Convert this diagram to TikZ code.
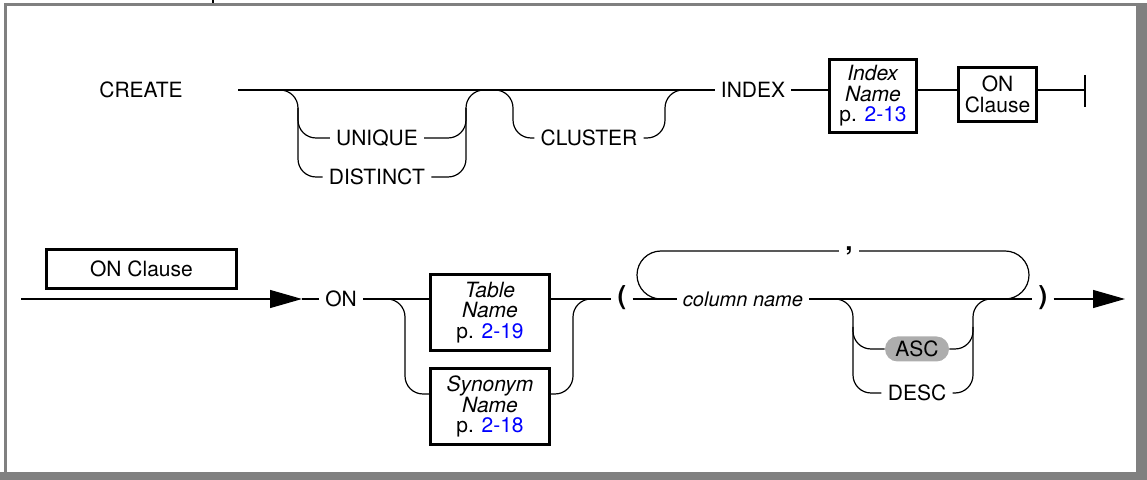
\documentclass[tikz,border=0pt]{standalone}
\usepackage{fontspec}
\setmainfont{TeX Gyre Heros}
\usetikzlibrary{arrows.meta}

\tikzset{
  kw/.style={inner xsep=3pt, inner ysep=1pt},
  punct/.style={kw, font=\fontsize{13}{14}\selectfont\bfseries},
  refbox/.style={draw, line width=1.5pt, align=center, inner sep=0pt,
    font=\fontsize{10.5}{10.3}\selectfont},
  pill/.style={fill=black!32, rounded corners=6.25pt, minimum width=32pt,
    minimum height=12.5pt, inner sep=0pt},
  rail/.style={line width=0.6pt, rounded corners=9pt},
  frame/.style={fill=black!50},
}
\newcommand{\pgref}[1]{\textcolor{blue}{#1}}

\begin{document}
\begin{tikzpicture}[x=0.5pt, y=-0.5pt, font=\fontsize{10.5}{12}\selectfont,
  >={Triangle[length=16pt,width=9pt]}]
\useasboundingbox (0,0) rectangle (1147,480);
\fill[frame] (0,472) rectangle (1147,480);
\fill[frame] (1136,3) rectangle (1147,472);
\fill[frame] (4,3) rectangle (1136,6);
\fill[frame] (4,3) rectangle (7,472);
\draw[line width=0.6pt] (213,0) -- (213,3);

\node[kw] (create) at (141,90) {CREATE};
\node[kw] (unique) at (377,138) {UNIQUE};
\node[kw] (distinct) at (377,177) {DISTINCT};
\node[kw] (cluster) at (589,138) {CLUSTER};
\node[kw] (index) at (753,90) {INDEX};
\node[refbox, minimum width=43.5pt, minimum height=36.5pt] (idxname) at (873,96)
  {\textit{Index}\\\textit{Name}\\p. \pgref{2-13}};
\node[refbox, minimum width=39pt, minimum height=27pt] (onclause) at (997.5,94.5)
  {ON\\Clause};
\coordinate (r1) at (238,90);
\coordinate (fork1) at (275,90);
\coordinate (aL) at (298,90);
\coordinate (aR) at (466,90);
\coordinate (bL) at (513,90);
\coordinate (bR) at (665,90);
\coordinate (join1) at (690,90);
\coordinate (stop) at (1085,90);

\draw[rail] (r1) -- (index.west);
\draw[rail] (fork1) -| (distinct.west -| aL) -- (distinct.west);
\draw[rail] (unique.west -| aL) ++(0,-30) |- (unique.west);
\draw[rail] (unique.east -| aR) ++(0,-30) |- (unique.east);
\draw[rail] (distinct.east) -| (aR) -| (cluster.west -| bL) -- (cluster.west);
\draw[rail] (cluster.east) -| (bR) -- (join1);
\draw[rail] (index.east) -- (index.east -| idxname.west);
\draw[rail] (index.east -| idxname.east) -- (index.east -| onclause.west);
\draw[rail] (index.east -| onclause.east) -- (stop);
\draw[line width=0.6pt] (stop) ++(0,-15) -- ++(0,32);

\node[refbox, minimum width=95pt, minimum height=19.5pt] (onhead) at (141.5,269) {ON Clause};
\node[kw] (on) at (341,299) {ON};
\node[refbox, minimum width=59.5pt, minimum height=38pt] (tblname) at (490,312.5)
  {\textit{Table}\\\textit{Name}\\p. \pgref{2-19}};
\node[refbox, minimum width=59.5pt, minimum height=38pt] (synname) at (490,406.5)
  {\textit{Synonym}\\\textit{Name}\\p. \pgref{2-18}};
\node[punct] (lparen) at (622,298) {(};
\node[kw, font=\itshape] (colname) at (743,299) {column name};
\node[punct] (comma) at (849,251) {,};
\node[punct] (rparen) at (1043,298) {)};
\node[pill] (asc) at (917,349) {ASC};
\node[kw] (desc) at (917,393) {DESC};
\coordinate (r2) at (21,299);
\coordinate (tip1) at (302,299);
\coordinate (synrow) at (0,394);
\coordinate (fork2) at (385,299);
\coordinate (cL) at (405,299);
\coordinate (cR) at (573,299);
\coordinate (join2) at (595,299);
\coordinate (loopL) at (637,299);
\coordinate (loopR) at (1029,299);
\coordinate (join4) at (1000,299);
\coordinate (fork3) at (830,299);
\coordinate (dL) at (853,299);
\coordinate (dR) at (973,299);
\coordinate (join3) at (995,299);
\coordinate (tip2) at (1125,299);

\draw[rail, ->] (r2) -- (tip1);
\draw[rail] (tip1) -- (on.west);
\draw[rail] (on.east) -- (on.east -| tblname.west);
\draw[rail] (fork2) -| (synrow -| cL) -- (synrow -| synname.west);
\draw[rail] (on.east -| tblname.east) -- (lparen.west |- on.east);
\draw[rail] (synrow -| synname.east) -| (cR) -- (join2);
\draw[rail] (lparen.east |- on.east) -- (colname.west);
\draw[rail, rounded corners=12pt] (colname.west) -- (loopL) -- (comma.west -| loopL) -- (comma.west);
\draw[rail, rounded corners=12pt] (comma.east) -| (loopR) -- (join4);
\draw[rail] (colname.east) -- (rparen.west |- colname.east);
\draw[rail, ->] (rparen.east |- colname.east) -- (tip2);
\draw[rail] (fork3) -| (desc.west -| dL) -- (desc.west);
\draw[rail] (asc.west -| dL) ++(0,-22) |- (asc.west);
\draw[rail] (asc.east -| dR) ++(0,-22) |- (asc.east);
\draw[rail] (desc.east) -| (dR) -- (join3);
\end{tikzpicture}
\end{document}
